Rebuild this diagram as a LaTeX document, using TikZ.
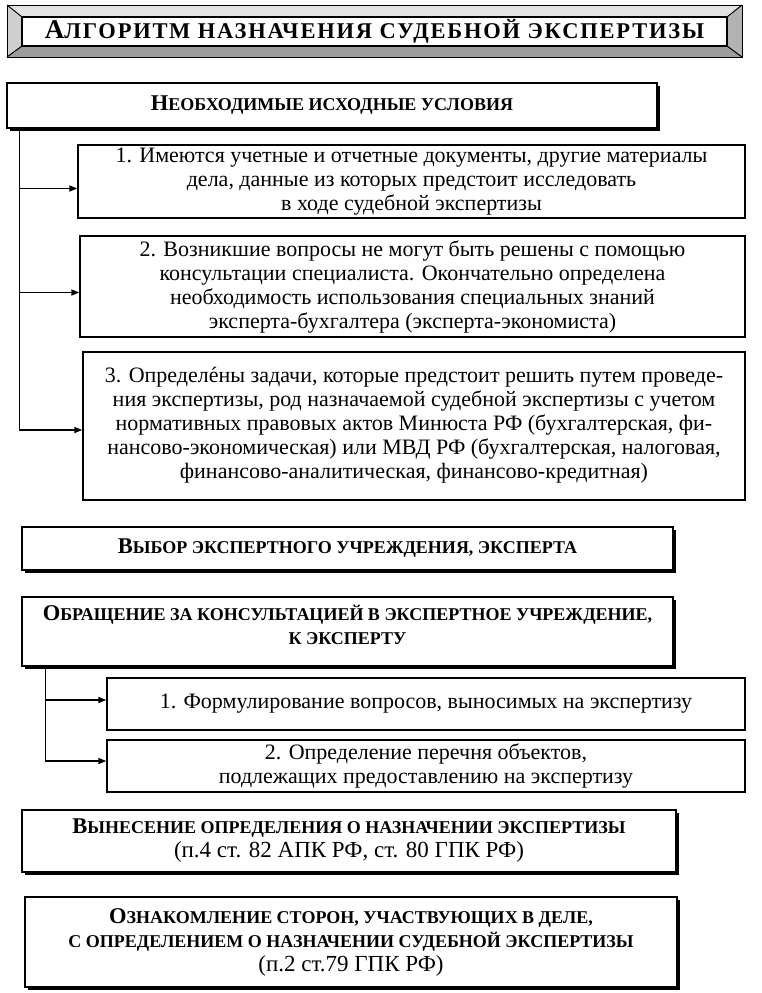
\documentclass[tikz,border=0pt]{standalone}
\usepackage{fontspec}
\setmainfont{Liberation Serif}
\newfontfamily\titfont[LetterSpace=8]{Liberation Serif}
\usetikzlibrary{shadows,calc,arrows.meta}
\newcommand\BigL[1]{{\fontsize{22.5}{24}\selectfont #1}}
\newcommand\TitL[1]{{\fontsize{27}{24}\selectfont #1}}
\newcommand\HeadF{\bfseries\fontsize{18}{24}\selectfont}
\newcommand\RefF{\mdseries\fontsize{23}{24}\selectfont}
\newcommand\accE{{\ooalign{е\cr\hidewidth\kern0.5pt ´\hidewidth\cr}}}
\begin{document}
\begin{tikzpicture}[x=1pt,y=-1pt]
\tikzset{
 box/.style={draw, line width=1.4pt, fill=white, inner sep=0pt, align=center, font=\fontsize{22}{24}\selectfont},
 shbox/.style={box, drop shadow={shadow xshift=3pt, shadow yshift=-3pt, fill=black, opacity=1}},
 conn/.style={line width=1.6pt, -{Triangle[length=8pt,width=6pt]}},
 head/.style={font=\HeadF, align=center},
 bevel/.style={draw, line width=1pt},
}
\useasboundingbox (0,0) rectangle (762,993);
\fill[white] (0,0) rectangle (762,993);
% title bevel frame
\fill[gray!22] (7,5) -- (742,5) -- (727,17) -- (22,17) -- cycle;
\fill[gray!38] (7,5) -- (22,17) -- (22,46) -- (7,57) -- cycle;
\fill[gray!60] (742,5) -- (742,57) -- (727,46) -- (727,17) -- cycle;
\fill[gray!78] (7,57) -- (742,57) -- (727,46) -- (22,46) -- cycle;
\draw[bevel] (7,5) rectangle (742,57);
\draw[bevel] (7,5) -- (22,17) (742,5) -- (727,17) (7,57) -- (22,46) (742,57) -- (727,46);
\node[box, line width=1.5pt, minimum width=705pt, minimum height=29pt, font=\titfont\bfseries\fontsize{22.5}{24}\selectfont] (title) at (374.5,31.5) {\TitL{А}ЛГОРИТМ НАЗНАЧЕНИЯ СУДЕБНОЙ ЭКСПЕРТИЗЫ};

% block 1
\node[shbox, minimum width=650pt, minimum height=45pt, head] (head1) at (332,105.5) {\BigL{Н}ЕОБХОДИМЫЕ ИСХОДНЫЕ УСЛОВИЯ};
\node[box, minimum width=667pt, minimum height=73pt] (b1) at (411.5,181.5) {1. Имеются учетные и отчетные документы, другие материалы\\ дела, данные из которых предстоит исследовать\\ в ходе судебной экспертизы};
\node[box, minimum width=665pt, minimum height=101pt] (b2) at (412.5,286.5) {2. Возникшие вопросы не могут быть решены с помощью\\ консультации специалиста. Окончательно определена\\ необходимость использования специальных знаний\\ эксперта-бухгалтера (эксперта-экономиста)};
\node[box, minimum width=662pt, minimum height=148pt] (b3) at (414,426) {3. Определ\accE ны задачи, которые предстоит решить путем проведе-\\ ния экспертизы, род назначаемой судебной экспертизы с учетом\\ нормативных правовых актов Минюста РФ (бухгалтерская, фи-\\ нансово-экономическая) или МВД РФ (бухгалтерская, налоговая,\\ финансово-аналитическая, финансово-кредитная)};
\coordinate (v1) at ($(head1.south west)+(13,0)$);
\coordinate (a1) at ($(b1.west)+(0,7)$);
\coordinate (a2) at ($(b2.west)+(0,6)$);
\coordinate (a3) at ($(b3.west)+(0,4)$);
\draw[conn] (v1) |- (a3);
\draw[conn] (v1 |- a1) -- (a1);
\draw[conn] (v1 |- a2) -- (a2);

% block 2
\node[shbox, minimum width=651pt, minimum height=43pt, head] (vyb) at (347.5,548.5) {\BigL{В}ЫБОР ЭКСПЕРТНОГО УЧРЕЖДЕНИЯ, ЭКСПЕРТА};
\node[shbox, minimum width=651pt, minimum height=69pt] (obr) at (347.5,631.5) {};
\node[head, anchor=north, inner sep=0pt] (obrt) at ($(obr.north)+(0,9)$) {\BigL{О}БРАЩЕНИЕ ЗА КОНСУЛЬТАЦИЕЙ В ЭКСПЕРТНОЕ УЧРЕЖДЕНИЕ,\\ К ЭКСПЕРТУ};
\node[box, minimum width=638pt, minimum height=52pt] (f1) at (426,704) {1. Формулирование вопросов, выносимых на экспертизу};
\node[box, minimum width=638pt, minimum height=52pt] (f2) at (426,766) {2. Определение перечня объектов,\\ подлежащих предоставлению на экспертизу};
\coordinate (v2) at ($(obr.south west)+(24,0)$);
\coordinate (c1) at ($(f1.west)+(0,-4)$);
\coordinate (c2) at ($(f2.west)+(0,-5)$);
\draw[conn] (v2) |- (c2);
\draw[conn] (v2 |- c1) -- (c1);

% block 3
\node[shbox, minimum width=654pt, minimum height=62pt] (vyn) at (349,841) {{\HeadF\BigL{В}ЫНЕСЕНИЕ ОПРЕДЕЛЕНИЯ О НАЗНАЧЕНИИ ЭКСПЕРТИЗЫ}\\ {\RefF (п.4 ст. 82 АПК РФ, ст. 80 ГПК РФ)}};
\node[shbox, minimum width=652pt, minimum height=90pt] (ozn) at (351,942) {{\HeadF\BigL{О}ЗНАКОМЛЕНИЕ СТОРОН, УЧАСТВУЮЩИХ В ДЕЛЕ,}\\ {\HeadF С ОПРЕДЕЛЕНИЕМ О НАЗНАЧЕНИИ СУДЕБНОЙ ЭКСПЕРТИЗЫ}\\ {\RefF (п.2 ст.79 ГПК РФ)}};
\end{tikzpicture}
\end{document}
